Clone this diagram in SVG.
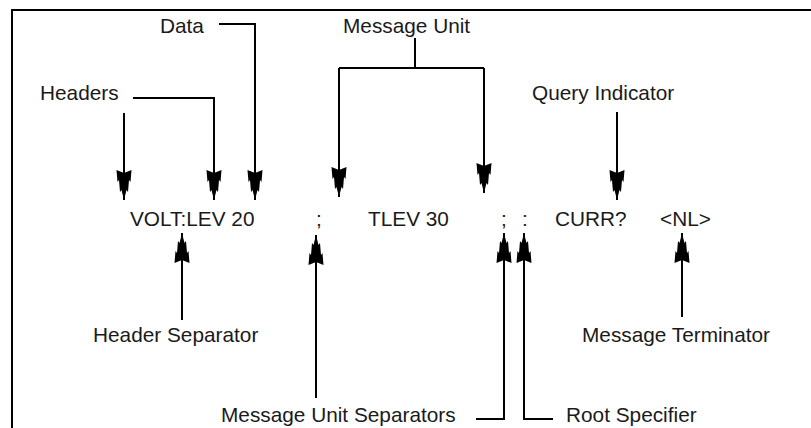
<svg xmlns="http://www.w3.org/2000/svg" width="811" height="428" viewBox="0 0 811 428">
<defs>
<marker id="arr" viewBox="0 0 30 16" refX="30" refY="8" markerWidth="30" markerHeight="16" markerUnits="userSpaceOnUse" orient="auto">
<path d="M30,8 L20,10.5 L22,12 L10,13 L12,14.5 L0,15.5 L3,8 L0,0.5 L12,1.5 L10,3 L22,4 L20,5.5 Z" fill="#000"/>
</marker>
</defs>
<style>
text{font-family:"Liberation Sans",Arial,sans-serif;font-size:20.8px;fill:#1a1a1a}
.c{fill:none;stroke:#000;stroke-width:2}
.a{marker-end:url(#arr)}
</style>
<rect width="811" height="428" fill="#fff"/>
<path class="c" d="M12,428 V10 H811"/>
<g id="connectors">
<path class="c a" d="M219,24 H255 V200"/>
<path class="c a" d="M133,98 H214 V200"/>
<path class="c a" d="M124,113 V200"/>
<path class="c" d="M415,38 V68 M339,68 H484"/>
<path class="c a" d="M339,68 V197"/>
<path class="c a" d="M484,68 V193"/>
<path class="c a" d="M617,112 V200"/>
<path class="c a" d="M182,320 V233"/>
<path class="c a" d="M316,398 V235"/>
<path class="c a" d="M476,419 H504 V233"/>
<path class="c a" d="M553,419 H524 V233"/>
<path class="c a" d="M682,317 V233"/>
</g>
<g id="data"><text x="160" y="33">Data</text></g>
<g id="headers"><text x="40" y="100">Headers</text></g>
<g id="message-unit"><text x="343" y="33">Message Unit</text></g>
<g id="query-indicator"><text x="532" y="100">Query Indicator</text></g>
<g id="command">
<text x="130" y="226">VOLT:LEV 20</text>
<text x="316" y="226">;</text>
<text x="368" y="226">TLEV 30</text>
<text x="501" y="226">;</text>
<text x="522" y="226">:</text>
<text x="555" y="226">CURR?</text>
<text x="660" y="226">&lt;NL&gt;</text>
</g>
<g id="header-separator"><text x="93" y="342">Header Separator</text></g>
<g id="message-terminator"><text x="582" y="342">Message Terminator</text></g>
<g id="message-unit-separators"><text x="221" y="422">Message Unit Separators</text></g>
<g id="root-specifier"><text x="566" y="422">Root Specifier</text></g>
</svg>
